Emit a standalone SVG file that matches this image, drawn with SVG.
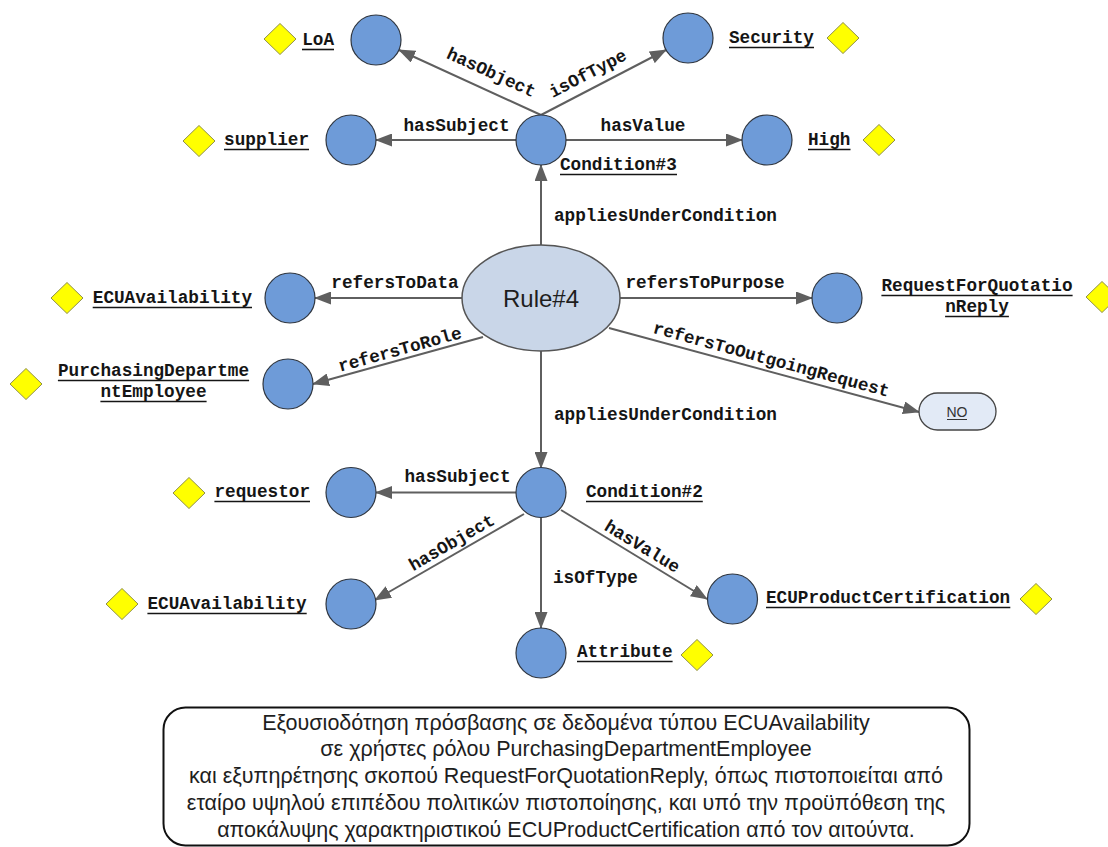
<svg xmlns="http://www.w3.org/2000/svg" width="1108" height="847" viewBox="0 0 1108 847">
  <defs>
    <style>
      .inst { fill: #6e9bd8; stroke: #2f3640; stroke-width: 1.2; }
      .rule { fill: #c9d6e8; stroke: #555; stroke-width: 1.5; }
      .val { fill: #e2eaf6; stroke: #444; stroke-width: 1.3; }
      .dia { fill: #ffff00; stroke: #8f8f4a; stroke-width: 1; }
      .lbl { font-family: "Liberation Mono", "DejaVu Sans Mono", monospace; font-weight: bold; font-size: 17.7px; fill: #151515; }
      .ul { stroke: #151515; stroke-width: 1.6; }
      .edge { stroke: #5f5f5f; stroke-width: 2; fill: none; marker-end: url(#arr); }
      .note { font-family: "Liberation Sans", Arial, sans-serif; font-size: 21.5px; fill: #1e1e1e; text-anchor: middle; }
    </style>
    <marker id="arr" markerWidth="17" markerHeight="13" refX="16" refY="6.5" orient="auto" markerUnits="userSpaceOnUse">
      <path d="M0,0 L17,6.5 L0,13 z" fill="#5f5f5f"/>
    </marker>
    <path id="diamond" class="dia" d="M0,-15.5 L16,0 L0,15.5 L-16,0 z"/>
  </defs>

  <!-- connectors -->
  <g id="connectors">
    <line class="edge" x1="541" y1="115" x2="399" y2="50"/>
    <line class="edge" x1="541" y1="115" x2="666" y2="50"/>
    <line class="edge" x1="516" y1="140" x2="376" y2="140"/>
    <line class="edge" x1="566" y1="140" x2="742" y2="140"/>
    <line class="edge" x1="541" y1="245" x2="541" y2="165"/>
    <line class="edge" x1="462" y1="298" x2="315" y2="298"/>
    <line class="edge" x1="483" y1="337" x2="313" y2="384"/>
    <line class="edge" x1="620" y1="298" x2="812" y2="298"/>
    <line class="edge" x1="609" y1="328" x2="919" y2="412"/>
    <line class="edge" x1="541" y1="351" x2="541" y2="468"/>
    <line class="edge" x1="516" y1="492.5" x2="376" y2="492.5"/>
    <line class="edge" x1="524" y1="514" x2="375" y2="600"/>
    <line class="edge" x1="541" y1="517.5" x2="541" y2="628"/>
    <line class="edge" x1="561" y1="510" x2="707" y2="599"/>

    <!-- connector labels -->
    <text class="lbl" text-anchor="middle" transform="translate(491,73) rotate(24.6)" y="5">hasObject</text>
    <text class="lbl" text-anchor="middle" transform="translate(588,74) rotate(-27.5)" y="5">isOfType</text>
    <text class="lbl" x="456.5" y="131" text-anchor="middle">hasSubject</text>
    <text class="lbl" x="643" y="131" text-anchor="middle">hasValue</text>
    <text class="lbl" x="554" y="221">appliesUnderCondition</text>
    <text class="lbl" x="395" y="288" text-anchor="middle">refersToData</text>
    <text class="lbl" text-anchor="middle" transform="translate(400,350) rotate(-15.5)" y="5">refersToRole</text>
    <text class="lbl" x="705" y="288" text-anchor="middle">refersToPurpose</text>
    <text class="lbl" text-anchor="middle" transform="translate(771,360) rotate(15.2)" y="5">refersToOutgoingRequest</text>
    <text class="lbl" x="554" y="420">appliesUnderCondition</text>
    <text class="lbl" x="457.5" y="482" text-anchor="middle">hasSubject</text>
    <text class="lbl" text-anchor="middle" transform="translate(452,543) rotate(-30)" y="5">hasObject</text>
    <text class="lbl" x="553" y="583">isOfType</text>
    <text class="lbl" text-anchor="middle" transform="translate(642,547) rotate(31.4)" y="5">hasValue</text>
  </g>

  <!-- Condition#3 and its properties -->
  <g id="condition3">
    <circle class="inst" cx="541" cy="140" r="25"/>
    <text class="lbl" x="560" y="170">Condition#3</text>
    <line class="ul" x1="560" y1="174.5" x2="677" y2="174.5"/>
  </g>
  <g id="loa">
    <circle class="inst" cx="376" cy="40" r="25"/>
    <text class="lbl" x="334" y="45" text-anchor="end">LoA</text>
    <line class="ul" x1="302" y1="49.5" x2="334" y2="49.5"/>
    <use href="#diamond" x="280" y="39"/>
  </g>
  <g id="security">
    <circle class="inst" cx="688" cy="38" r="25"/>
    <text class="lbl" x="729" y="43">Security</text>
    <line class="ul" x1="729" y1="47.5" x2="814" y2="47.5"/>
    <use href="#diamond" x="843" y="38"/>
  </g>
  <g id="supplier">
    <circle class="inst" cx="351" cy="140" r="25"/>
    <text class="lbl" x="309" y="145" text-anchor="end">supplier</text>
    <line class="ul" x1="224" y1="149.5" x2="309" y2="149.5"/>
    <use href="#diamond" x="199" y="141"/>
  </g>
  <g id="high">
    <circle class="inst" cx="767" cy="140" r="25"/>
    <text class="lbl" x="808" y="145">High</text>
    <line class="ul" x1="808" y1="149.5" x2="850.5" y2="149.5"/>
    <use href="#diamond" x="879" y="140"/>
  </g>

  <!-- central rule -->
  <g id="rule4">
    <ellipse class="rule" cx="541" cy="298" rx="79" ry="53"/>
    <text x="541" y="307" text-anchor="middle" font-family="Liberation Sans, Arial, sans-serif" font-size="24" fill="#1e1e1e">Rule#4</text>
  </g>
  <g id="ecuAvailabilityData">
    <circle class="inst" cx="290" cy="298" r="25"/>
    <text class="lbl" x="252" y="303" text-anchor="end">ECUAvailability</text>
    <line class="ul" x1="92.7" y1="307.5" x2="252" y2="307.5"/>
    <use href="#diamond" x="67" y="298"/>
  </g>
  <g id="purchasingDepartmentEmployee">
    <circle class="inst" cx="288" cy="384" r="25"/>
    <text class="lbl" x="153.5" y="376" text-anchor="middle">PurchasingDepartme</text>
    <line class="ul" x1="57.9" y1="380.5" x2="249.1" y2="380.5"/>
    <text class="lbl" x="153.5" y="397" text-anchor="middle">ntEmployee</text>
    <line class="ul" x1="100.4" y1="401.5" x2="206.6" y2="401.5"/>
    <use href="#diamond" x="26" y="384"/>
  </g>
  <g id="requestForQuotationReply">
    <circle class="inst" cx="837" cy="298" r="25"/>
    <text class="lbl" x="977" y="291" text-anchor="middle">RequestForQuotatio</text>
    <line class="ul" x1="881.4" y1="295.5" x2="1072.6" y2="295.5"/>
    <text class="lbl" x="977" y="312" text-anchor="middle">nReply</text>
    <line class="ul" x1="945.1" y1="316.5" x2="1008.9" y2="316.5"/>
    <use href="#diamond" x="1102" y="297"/>
  </g>
  <g id="outgoingNo">
    <rect class="val" x="919" y="393" width="77" height="37" rx="18.5"/>
    <text x="957" y="417" text-anchor="middle" font-family="Liberation Sans, Arial, sans-serif" font-size="14" fill="#333">NO</text>
    <line x1="947" y1="419.5" x2="967" y2="419.5" stroke="#333" stroke-width="1"/>
  </g>

  <!-- Condition#2 and its properties -->
  <g id="condition2">
    <circle class="inst" cx="541" cy="492.5" r="25"/>
    <text class="lbl" x="586" y="497">Condition#2</text>
    <line class="ul" x1="586" y1="501.5" x2="702.8" y2="501.5"/>
  </g>
  <g id="requestor">
    <circle class="inst" cx="351" cy="492.5" r="25"/>
    <text class="lbl" x="310" y="497" text-anchor="end">requestor</text>
    <line class="ul" x1="214.4" y1="501.5" x2="310" y2="501.5"/>
    <use href="#diamond" x="189" y="493"/>
  </g>
  <g id="ecuAvailabilityObject">
    <circle class="inst" cx="351" cy="604" r="25"/>
    <text class="lbl" x="306.7" y="609" text-anchor="end">ECUAvailability</text>
    <line class="ul" x1="147.4" y1="613.5" x2="306.7" y2="613.5"/>
    <use href="#diamond" x="122" y="604"/>
  </g>
  <g id="attribute">
    <circle class="inst" cx="541" cy="653" r="25"/>
    <text class="lbl" x="577" y="657">Attribute</text>
    <line class="ul" x1="577" y1="661.5" x2="672.6" y2="661.5"/>
    <use href="#diamond" x="697" y="655"/>
  </g>
  <g id="ecuProductCertification">
    <circle class="inst" cx="732.5" cy="599" r="25"/>
    <text class="lbl" x="766" y="603">ECUProductCertification</text>
    <line class="ul" x1="766" y1="607.5" x2="1010.3" y2="607.5"/>
    <use href="#diamond" x="1036" y="599"/>
  </g>

  <!-- description note -->
  <g id="description">
    <rect x="163.5" y="707.5" width="806" height="138" rx="22" fill="#ffffff" stroke="#111" stroke-width="2"/>
    <text class="note" x="566" y="729.5">Εξουσιοδότηση πρόσβασης σε δεδομένα τύπου ECUAvailability</text>
    <text class="note" x="566" y="756">σε χρήστες ρόλου PurchasingDepartmentEmployee</text>
    <text class="note" x="566" y="783">και εξυπηρέτησης σκοπού RequestForQuotationReply, όπως πιστοποιείται από</text>
    <text class="note" x="566" y="810">εταίρο υψηλού επιπέδου πολιτικών πιστοποίησης, και υπό την προϋπόθεση της</text>
    <text class="note" x="566" y="836.5">αποκάλυψης χαρακτηριστικού ECUProductCertification από τον αιτούντα.</text>
  </g>
</svg>
